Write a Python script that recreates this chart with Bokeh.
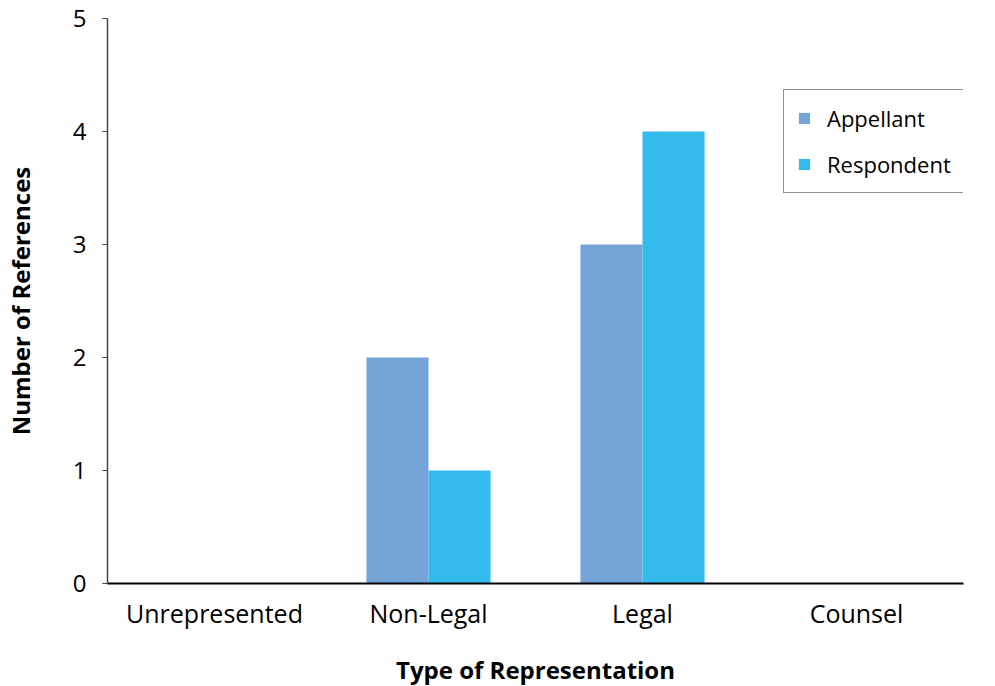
from bokeh.plotting import figure
from bokeh.models import ColumnDataSource, FactorRange, Range1d, Legend, LegendItem, SingleIntervalTicker
from bokeh.transform import dodge
from bokeh.embed import file_html
from bokeh.resources import INLINE

categories = ["Unrepresented", "Non-Legal", "Legal", "Counsel"]
appellant = [0, 2, 3, 0]
respondent = [0, 1, 4, 0]
series_names = ["Appellant", "Respondent"]
colors = ["#75A5D8", "#33BBEE"]

src = ColumnDataSource(dict(cat=categories, appellant=appellant, respondent=respondent))

p = figure(x_range=FactorRange(*categories), y_range=Range1d(0, 5),
           frame_width=856, frame_height=565,
           min_border_left=102, min_border_top=18, min_border_right=30, min_border_bottom=95,
           output_backend="svg", toolbar_location=None, background_fill_color="white",
           border_fill_color="white")
p.outline_line_color = None
p.xgrid.visible = False
p.ygrid.visible = False

bw = 0.29
r1 = p.vbar(x=dodge("cat", -bw / 2, range=p.x_range), top="appellant", width=bw, source=src,
            fill_color=colors[0], line_color=None)
r2 = p.vbar(x=dodge("cat", bw / 2, range=p.x_range), top="respondent", width=bw, source=src,
            fill_color=colors[1], line_color=None)

font = "Open Sans"
# y axis
p.yaxis.ticker = SingleIntervalTicker(interval=1)
p.yaxis.minor_tick_line_color = None
p.yaxis.major_tick_out = 5
p.yaxis.major_tick_in = 0
p.yaxis.major_tick_line_color = "#444444"
p.yaxis.axis_line_color = "#444444"
p.yaxis.axis_line_width = 1.5
p.yaxis.major_label_text_font = font
p.yaxis.major_label_text_font_size = "24px"
p.yaxis.major_label_text_color = "black"
p.yaxis.major_label_standoff = 16
p.yaxis.axis_label = "Number of References"
p.yaxis.axis_label_text_font = font
p.yaxis.axis_label_text_font_style = "bold"
p.yaxis.axis_label_text_font_size = "24px"
p.yaxis.axis_label_text_color = "black"
p.yaxis.axis_label_standoff = 33

# x axis
p.xaxis.major_tick_line_color = None
p.xaxis.minor_tick_line_color = None
p.xaxis.axis_line_color = "black"
p.xaxis.axis_line_width = 2
p.xaxis.major_label_text_font = font
p.xaxis.major_label_text_font_size = "25px"
p.xaxis.major_label_text_color = "black"
p.xaxis.major_label_standoff = 6
p.xaxis.axis_label = "Type of Representation"
p.xaxis.axis_label_text_font = font
p.xaxis.axis_label_text_font_style = "bold"
p.xaxis.axis_label_text_font_size = "24px"
p.xaxis.axis_label_text_color = "black"
p.xaxis.axis_label_standoff = 20

legend = Legend(items=[LegendItem(label=series_names[0], renderers=[r1]),
                       LegendItem(label=series_names[1], renderers=[r2])],
                location=(676, 390))
legend.glyph_width = 14
legend.glyph_height = 14
legend.label_text_font = font
legend.label_text_font_size = "22px"
legend.label_text_color = "black"
legend.label_height = 20
legend.label_standoff = 16
legend.spacing = 16
legend.padding = 13
legend.margin = 0
legend.border_line_color = "#222222"
legend.border_line_width = 1
legend.background_fill_color = "white"
legend.background_fill_alpha = 1
p.add_layout(legend, "center")

open("out.html", "w").write(file_html(p, INLINE))
